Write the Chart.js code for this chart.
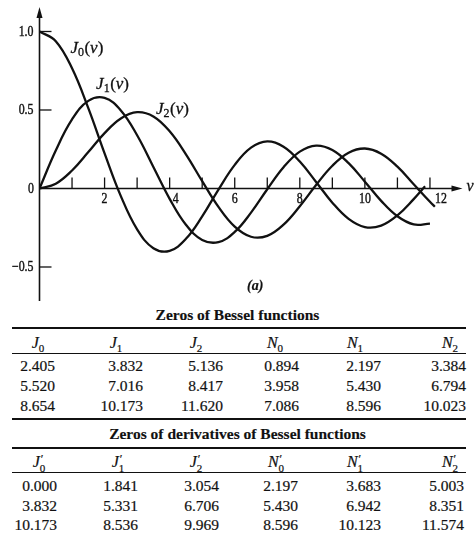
<!DOCTYPE html>
<html>
<head>
<meta charset="utf-8">
<script src="https://cdn.jsdelivr.net/npm/chart.js@4.4.1/dist/chart.umd.min.js"></script>
<style>
  html, body { margin: 0; padding: 0; background: #fff; }
  body { width: 475px; height: 533px; position: relative; overflow: hidden;
         font-family: "Liberation Serif", "Times New Roman", serif; color: #111; }
  #wrap { position: absolute; left: 0; top: 0; width: 475px; height: 305px; }
  .t { position: absolute; white-space: nowrap; line-height: 18px; font-size: 15.5px; -webkit-text-stroke: 0.2px #111; }
  .title { font-weight: bold; font-size: 15.5px; -webkit-text-stroke: 0.15px #111; }
  .rule { position: absolute; left: 12px; width: 454px; background: #111; }
  .hd { font-size: 16px; }
  .hd i { font-style: italic; }
  .sub { font-size: 11px; position: relative; top: 4px; }
  .ss { display: inline-block; vertical-align: -5px; font-size: 11px; line-height: 9px; text-align: left; }
  .ss span { display: block; }
  .pr { font-style: normal; font-size: 12px; position: relative; left: 1px; }
</style>
</head>
<body>
<div id="wrap"><canvas id="c"></canvas></div>
<div class="t" style="left:247px; top:277px; font-style:italic; font-weight:bold; font-size:14px;">(a)</div>
<div id="tables"></div>
<script>
const v0 = [0,0.5,1,1.5,2,2.5,3,3.5,4,4.5,5,5.5,6,6.5,7,7.5,8,8.5,9,9.5,10,10.5,11,11.5,11.85];
const J0 = [1.0000,0.9385,0.7652,0.5118,0.2239,-0.0484,-0.2601,-0.3801,-0.3971,-0.3205,-0.1776,-0.0068,0.1506,0.2601,0.3001,0.2663,0.1717,0.0419,-0.0903,-0.1939,-0.2459,-0.2366,-0.1712,-0.0677,0.0139];
const v1 = [0,0.5,1,1.5,2,2.5,3,3.5,4,4.5,5,5.5,6,6.5,7,7.5,8,8.5,9,9.5,10,10.5,11,11.5,12];
const J1 = [0,0.2423,0.4401,0.5579,0.5767,0.4971,0.3391,0.1374,-0.0660,-0.2311,-0.3276,-0.3414,-0.2767,-0.1538,-0.0047,0.1352,0.2346,0.2731,0.2453,0.1613,0.0435,-0.0789,-0.1768,-0.2284,-0.2234];
const v2 = [0,0.5,1,1.5,2,2.5,3,3.5,4,4.5,5,5.5,6,6.5,7,7.5,8,8.5,9,9.5,10,10.5,11,11.5,12,12.15];
const J2 = [0,0.0306,0.1149,0.2321,0.3528,0.4461,0.4861,0.4586,0.3641,0.2178,0.0466,-0.1173,-0.2429,-0.3074,-0.3014,-0.2303,-0.1130,0.0223,0.1448,0.2279,0.2546,0.2216,0.1390,0.0273,-0.0849,-0.1160];

// ---- Axis ticks ----
const xTickValues = [1,2,3,4,5,6,7,8,9,10,11,12];
const xTickLabels = ['', '2', '', '4', '', '6', '', '8', '', '10', '', '12'];
const yTickValues = [1.0, 0.5, -0.5];
const yTickLabels = ['1.0', '0.5', '\u22120.5'];
const originLabel = '0';

// ---- Curve labels ----
const curveNames = ['J', 'J', 'J'];
const curveSubs = ['0', '1', '2'];
const curveLabelAt = [[0.95, 0.86], [1.74, 0.634], [3.58, 0.475]];

// ---- Tables ----
const zeroHeads = [['J','0'],['J','1'],['J','2'],['N','0'],['N','1'],['N','2']];
const besselZeros = [
  ['2.405','3.832','5.136','0.894','2.197','3.384'],
  ['5.520','7.016','8.417','3.958','5.430','6.794'],
  ['8.654','10.173','11.620','7.086','8.596','10.023']
];
const derivZeros = [
  ['0.000','1.841','3.054','2.197','3.683','5.003'],
  ['3.832','5.331','6.706','5.430','6.942','8.351'],
  ['10.173','8.536','9.969','8.596','10.123','11.574']
];

function toPts(xs, ys) { return xs.map((x, i) => ({ x: x, y: ys[i] })); }

const INK = '#111';

function drawScaled(ctx, str, x, y, font, align, sx) {
  ctx.save();
  ctx.font = font;
  ctx.textAlign = align;
  ctx.textBaseline = 'alphabetic';
  ctx.scale(sx, 1);
  ctx.lineWidth = 0.4;
  ctx.fillText(str, x / sx, y);
  ctx.strokeText(str, x / sx, y);
  ctx.restore();
}
function txt(ctx, s, x, y) { ctx.fillText(s, x, y); ctx.strokeText(s, x, y); return ctx.measureText(s).width; }

const decoPlugin = {
  id: 'deco',
  afterDatasetsDraw(chart) {
    const ctx = chart.ctx;
    const xs = chart.scales.x, ys = chart.scales.y;
    const area = chart.chartArea;
    const x0 = xs.getPixelForValue(0), y0 = ys.getPixelForValue(0);
    ctx.save();
    ctx.strokeStyle = INK; ctx.fillStyle = INK; ctx.lineWidth = 1.6;
    // y axis + arrow
    ctx.beginPath(); ctx.moveTo(x0, area.bottom); ctx.lineTo(x0, area.top + 6); ctx.stroke();
    ctx.beginPath(); ctx.moveTo(x0, area.top); ctx.lineTo(x0 - 3, area.top + 11); ctx.lineTo(x0 + 3, area.top + 11); ctx.closePath(); ctx.fill();
    // x axis + arrow
    ctx.beginPath(); ctx.moveTo(x0, y0); ctx.lineTo(area.right - 6, y0); ctx.stroke();
    ctx.beginPath(); ctx.moveTo(area.right, y0); ctx.lineTo(area.right - 11, y0 - 3); ctx.lineTo(area.right - 11, y0 + 3); ctx.closePath(); ctx.fill();
    // x tick marks (upward) and labels
    ctx.lineWidth = 1.3;
    xTickValues.forEach((v, i) => {
      const px = xs.getPixelForValue(v);
      ctx.beginPath(); ctx.moveTo(px, y0); ctx.lineTo(px, y0 - 11); ctx.stroke();
      const lab = xTickLabels[i];
      if (lab) {
        let lx = px, al = 'center';
        if (v === 4) lx = px + 6;
        if (v === 12) { lx = px + 5; al = 'left'; }
        drawScaled(ctx, lab, lx, y0 + 15, '14px "Liberation Serif"', al, 0.85);
      }
    });
    // y tick marks (rightward) and labels
    yTickValues.forEach((v, i) => {
      const py = ys.getPixelForValue(v);
      ctx.beginPath(); ctx.moveTo(x0, py); ctx.lineTo(x0 + 12, py); ctx.stroke();
      drawScaled(ctx, yTickLabels[i], x0 - 6, py + 4.5, '14px "Liberation Serif"', 'right', 0.85);
    });
    drawScaled(ctx, originLabel, x0 - 5.5, y0 + 4.5, '14px "Liberation Serif"', 'right', 0.85);
    // axis variable
    ctx.lineWidth = 0.3;
    ctx.font = 'italic 16px "Liberation Serif"'; ctx.textAlign = 'left';
    txt(ctx, 'v', area.right + 4, y0 + 3);
    // curve labels
    curveLabelAt.forEach((p, i) => {
      let lx = xs.getPixelForValue(p[0]);
      const ly = ys.getPixelForValue(p[1]);
      ctx.textAlign = 'left';
      ctx.font = 'italic 17px "Liberation Serif"';
      lx += txt(ctx, curveNames[i], lx, ly);
      ctx.font = '12px "Liberation Serif"';
      lx += txt(ctx, curveSubs[i], lx, ly + 3) + 0.5;
      ctx.font = '17px "Liberation Serif"';
      lx += txt(ctx, '(', lx, ly);
      ctx.font = 'italic 17px "Liberation Serif"';
      lx += txt(ctx, 'v', lx, ly);
      ctx.font = '17px "Liberation Serif"';
      txt(ctx, ')', lx, ly);
    });
    ctx.restore();
  }
};

const lineStyle = { borderColor: INK, borderWidth: 2.3, pointRadius: 0, tension: 0.4, fill: false };

new Chart(document.getElementById('c'), {
  type: 'line',
  data: {
    datasets: [
      Object.assign({ label: 'J0(v)', data: toPts(v0, J0) }, lineStyle),
      Object.assign({ label: 'J1(v)', data: toPts(v1, J1) }, lineStyle),
      Object.assign({ label: 'J2(v)', data: toPts(v2, J2) }, lineStyle)
    ]
  },
  options: {
    responsive: true, maintainAspectRatio: false, animation: false, devicePixelRatio: 1,
    layout: { padding: { left: 39.5, right: 12.5, top: 7, bottom: 4 } },
    plugins: { legend: { display: false }, tooltip: { enabled: false } },
    scales: {
      x: { type: 'linear', min: 0, max: 13, display: false },
      y: { type: 'linear', min: -0.7166, max: 1.156, display: false }
    }
  },
  plugins: [decoPlugin]
});

// ---- Tables (HTML text) ----
const tablesEl = document.getElementById('tables');
function addDiv(cls, style, html) {
  const d = document.createElement('div');
  d.className = cls; d.setAttribute('style', style); d.innerHTML = html;
  tablesEl.appendChild(d); return d;
}
function addRule(top, h) { addDiv('rule', 'top:' + top + 'px;height:' + h + 'px;', ''); }

function buildTable(cfg) {
  addDiv('t title', 'left:0;width:475px;text-align:center;top:' + (cfg.titleBase - 14) + 'px;', cfg.title);
  addRule(cfg.rule1, 2);
  zeroHeads.forEach((h, i) => {
    let inner;
    if (cfg.prime) {
      inner = '<i>' + h[0] + '</i><span class="ss"><span class="pr">\u2032</span><span>' + h[1] + '</span></span>';
    } else {
      inner = '<i>' + h[0] + '</i><span class="sub">' + h[1] + '</span>';
    }
    const d = addDiv('t hd', 'top:' + (cfg.headBase - 14) + 'px;', inner);
    const w = d.getBoundingClientRect().width;
    d.style.left = (cfg.headCenters[i] - w / 2) + 'px';
  });
  addRule(cfg.rule2, 1.5);
  cfg.rows.forEach((row, r) => {
    row.forEach((val, c) => {
      const d = addDiv('t', 'top:' + (cfg.rowBases[r] - 14) + 'px;', val);
      const w = d.getBoundingClientRect().width;
      d.style.left = (cfg.rights[c] - w) + 'px';
    });
  });
  if (cfg.rule3) addRule(cfg.rule3, 2);
}

buildTable({
  title: 'Zeros of Bessel functions', titleBase: 320, rule1: 327, headBase: 348, rule2: 352.5,
  rows: besselZeros, rowBases: [371, 391, 411], rule3: 418,
  headCenters: [38, 116, 196, 275, 355, 450], rights: [55, 143, 223, 299, 381, 466], prime: false
});
buildTable({
  title: 'Zeros of derivatives of Bessel functions', titleBase: 439, rule1: 447, headBase: 467, rule2: 471.5,
  rows: derivZeros, rowBases: [491, 511, 530], rule3: null,
  headCenters: [39, 118, 196, 276, 355, 450], rights: [57, 138, 219, 298, 381, 464], prime: true
});
</script>
</body>
</html>
